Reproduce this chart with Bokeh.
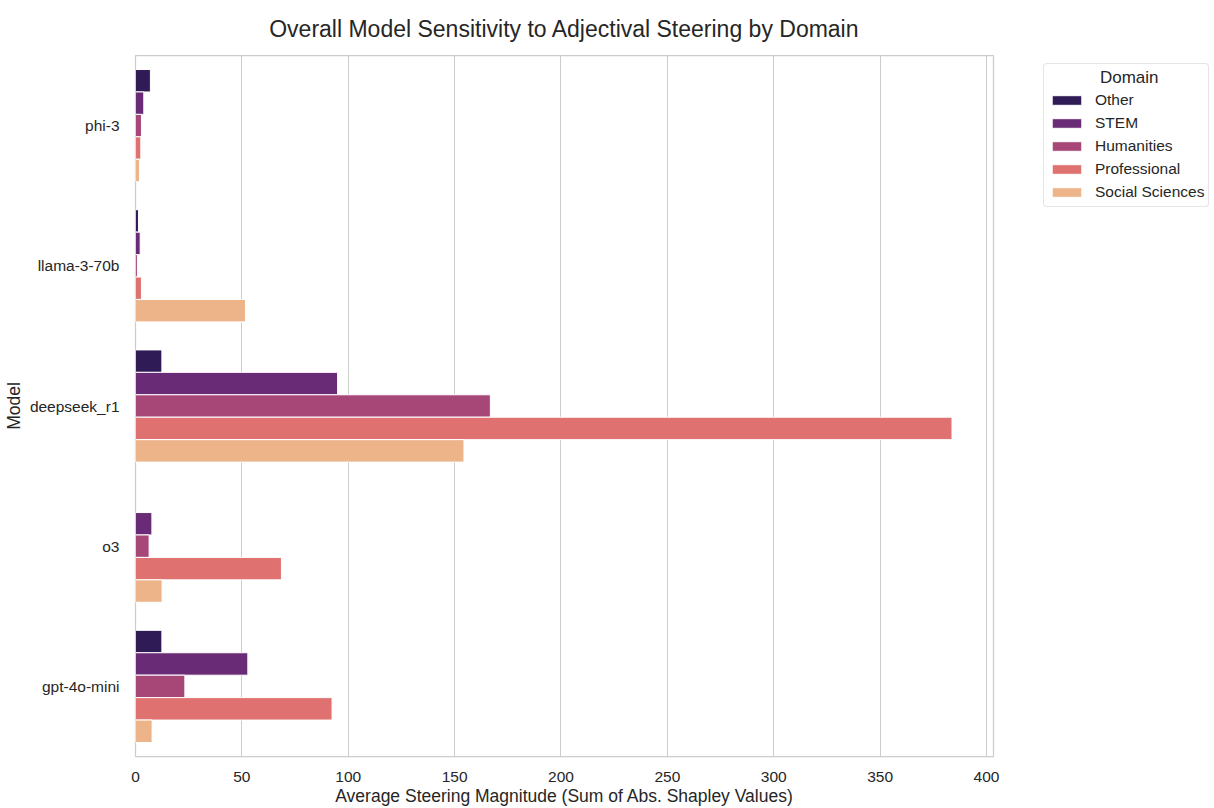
from bokeh.plotting import figure
from bokeh.layouts import row
from bokeh.models import (ColumnDataSource, FactorRange, Range1d, FixedTicker,
                          Legend, LegendItem)
from bokeh.transform import dodge
from bokeh.embed import file_html
from bokeh.resources import INLINE

# ---------------- data ----------------
models = ["phi-3", "llama-3-70b", "deepseek_r1", "o3", "gpt-4o-mini"]
domains = ["Other", "STEM", "Humanities", "Professional", "Social Sciences"]

other = [7.0, 1.4, 12.4, float("nan"), 12.4]
stem = [3.9, 2.2, 95.0, 7.7, 52.8]
humanities = [2.8, 0.9, 166.8, 6.4, 23.2]
professional = [2.5, 2.8, 383.8, 68.6, 92.4]
social_sciences = [1.9, 51.7, 154.4, 12.5, 7.8]

x_ticks = [0, 50, 100, 150, 200, 250, 300, 350, 400]

colors = ["#2f1b55", "#692b75", "#a74778", "#df7270", "#edb389"]

FONT = "Liberation Sans"
TXT = "#262626"
GRID = "#cccccc"

source = ColumnDataSource(data={
    "model": models,
    "Other": other,
    "STEM": stem,
    "Humanities": humanities,
    "Professional": professional,
    "Social Sciences": social_sciences,
})

p = figure(
    width=1000, height=808,
    y_range=FactorRange(factors=list(reversed(models))),
    x_range=Range1d(0, 403.3),
    output_backend="svg", toolbar_location=None,
    min_border_left=134, min_border_right=7,
    min_border_top=55, min_border_bottom=52,
    title="Overall Model Sensitivity to Adjectival Steering by Domain",
)
p.background_fill_color = "white"
p.border_fill_color = "white"
p.outline_line_color = GRID
p.outline_line_width = 1.25

bar_h = 0.16
offsets = [0.32, 0.16, 0.0, -0.16, -0.32]
for d, off, c in zip(domains, offsets, colors):
    p.hbar(y=dodge("model", off, range=p.y_range), left=0, right=d,
           height=bar_h, source=source, fill_color=c,
           line_color="white", line_width=1)

# title
p.title.text_font = FONT
p.title.text_font_size = "23px"
p.title.text_font_style = "normal"
p.title.text_color = TXT
p.title.align = "center"
p.title.vertical_align = "top"
p.title.standoff = 24

# axes
p.xaxis.ticker = FixedTicker(ticks=x_ticks)
p.xaxis.axis_label = "Average Steering Magnitude (Sum of Abs. Shapley Values)"
p.yaxis.axis_label = "Model"
for ax in (p.xaxis[0], p.yaxis[0]):
    ax.axis_line_color = None
    ax.major_tick_line_color = None
    ax.minor_tick_line_color = None
    ax.major_tick_out = 0
    ax.major_tick_in = 0
    ax.major_label_text_font = FONT
    ax.major_label_text_font_size = "15.5px"
    ax.major_label_text_color = TXT
    ax.axis_label_text_font = FONT
    ax.axis_label_text_font_size = "17.5px"
    ax.axis_label_text_font_style = "normal"
    ax.axis_label_text_color = TXT
p.xaxis.major_label_standoff = 15
p.xaxis.axis_label_standoff = 1
p.yaxis.major_label_standoff = 16
p.yaxis.axis_label_standoff = 3

p.xgrid.grid_line_color = GRID
p.xgrid.grid_line_width = 1
p.ygrid.grid_line_color = None

# ---------------- legend panel (separate narrow figure) ----------------
# the same data is drawn here outside the visible x range, only so that the
# legend has renderers (with their colours) to show
lg = figure(width=214, height=808,
            x_range=Range1d(-2, -1),
            y_range=FactorRange(factors=list(reversed(models))),
            x_axis_location=None, y_axis_location=None,
            output_backend="svg", toolbar_location=None,
            min_border_left=0, min_border_right=0,
            min_border_top=0, min_border_bottom=0)
lg.outline_line_color = None
lg.grid.visible = False
lg.background_fill_color = "white"
lg.border_fill_color = "white"

items = []
for d, c in zip(domains, colors):
    r = lg.hbar(y="model", left=0, right=d, height=bar_h, source=source,
                fill_color=c, line_color="white", line_width=1)
    items.append(LegendItem(label=d, renderers=[r]))

legend = Legend(items=items, location=(43, 549))
legend.title = "\u00a0" * 11 + "Domain"
legend.title_text_font = FONT
legend.title_text_font_size = "17px"
legend.title_text_font_style = "normal"
legend.title_text_color = TXT
legend.title_standoff = 2
legend.label_text_font = FONT
legend.label_text_font_size = "15.5px"
legend.label_text_color = TXT
legend.glyph_width = 37
legend.glyph_height = 12
legend.label_height = 20
legend.label_standoff = 10
legend.spacing = 3
legend.padding = 4
legend.margin = 0
legend.border_line_color = GRID
legend.border_line_width = 1
legend.background_fill_color = "white"
legend.background_fill_alpha = 1
if "border_radius" in Legend.properties():
    legend.border_radius = 4
lg.add_layout(legend)

layout = row(p, lg)
open("out.html", "w").write(file_html(layout, INLINE))
